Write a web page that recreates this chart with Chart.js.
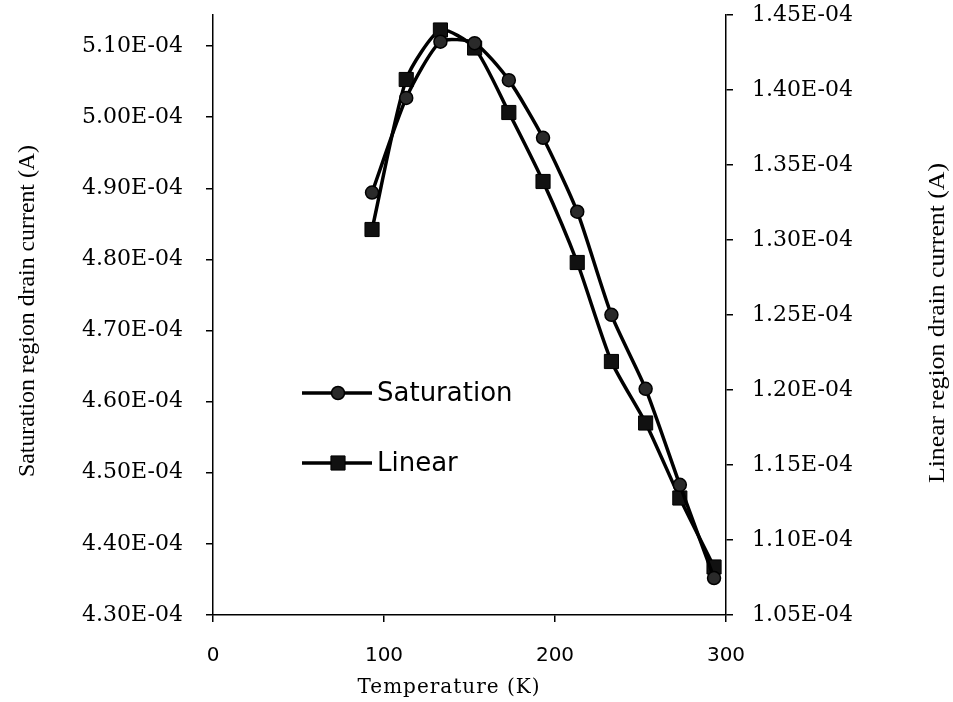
<!DOCTYPE html>
<html>
<head>
<meta charset="utf-8">
<script src="https://cdn.jsdelivr.net/npm/chart.js@4.4.1/dist/chart.umd.min.js"></script>
<style>
  html, body { margin: 0; padding: 0; background: #fff; }
  #wrap { width: 953px; height: 702px; }
</style>
</head>
<body>
<div id="wrap"><canvas id="myChart" width="953" height="702"></canvas></div>
<script>
const temperatures = [93, 113, 133, 153, 173, 193, 213, 233, 253, 273, 293];
const saturationCurrent = [4.894e-4, 5.027e-4, 5.106e-4, 5.104e-4, 5.052e-4, 4.971e-4, 4.867e-4, 4.722e-4, 4.618e-4, 4.483e-4, 4.352e-4];
const linearCurrent = [1.307e-4, 1.407e-4, 1.440e-4, 1.428e-4, 1.385e-4, 1.339e-4, 1.285e-4, 1.219e-4, 1.178e-4, 1.128e-4, 1.082e-4];
const tempTicks = [0, 100, 200, 300];
const saturationTicks = [4.3e-4, 4.4e-4, 4.5e-4, 4.6e-4, 4.7e-4, 4.8e-4, 4.9e-4, 5.0e-4, 5.1e-4];
const linearTicks = [1.05e-4, 1.10e-4, 1.15e-4, 1.20e-4, 1.25e-4, 1.30e-4, 1.35e-4, 1.40e-4, 1.45e-4];

// Excel style: 5.10E-04
const fmtSci = (v) => {
  const [m, e] = v.toExponential(2).split("e");
  const n = parseInt(e, 10);
  return m + "E" + (n < 0 ? "-" : "+") + String(Math.abs(n)).padStart(2, "0");
};

const toPoints = (xs, ys) => xs.map((x, i) => ({ x: x, y: ys[i] }));

const noPad = (s) => {
  s.paddingTop = 0;
  s.paddingBottom = 0;
  s.paddingLeft = 0;
  s.paddingRight = 0;
};

const axisCommon = {
  grid: { drawOnChartArea: false, drawTicks: true, tickLength: 7, color: "#000", lineWidth: 1.5 },
  border: { display: true, color: "#000", width: 1.5 },
};

// titles are drawn by hand: both y titles read bottom-to-top and are stretched like the original
const titlesAndLegend = {
  id: "titlesAndLegend",
  afterDraw(chart) {
    const ctx = chart.ctx;
    const vTitle = (text, cx, cy, len) => {
      ctx.save();
      ctx.font = "24px 'Liberation Serif'";
      const w = ctx.measureText(text).width;
      ctx.translate(cx, cy);
      ctx.rotate(-Math.PI / 2);
      ctx.scale(len / w, 1);
      ctx.fillStyle = "#000";
      ctx.textAlign = "center";
      ctx.textBaseline = "middle";
      ctx.fillText(text, 0, 0);
      ctx.restore();
    };
    vTitle("Saturation region drain current (A)", 28, 311, 332);
    vTitle("Linear region drain current (A)", 938, 323, 320);

    ctx.save();
    ctx.font = "20px 'DejaVu Serif'";
    ctx.letterSpacing = "1px";
    ctx.fillStyle = "#000";
    ctx.textAlign = "center";
    ctx.textBaseline = "middle";
    ctx.fillText("Temperature (K)", 449, 688);
    ctx.restore();

    // legend inside the plot
    const rows = [
      { ds: chart.data.datasets[0], y: 393 },
      { ds: chart.data.datasets[1], y: 463 },
    ];
    rows.forEach((r) => {
      ctx.save();
      ctx.strokeStyle = r.ds.borderColor;
      ctx.lineWidth = r.ds.borderWidth;
      ctx.beginPath();
      ctx.moveTo(302, r.y);
      ctx.lineTo(372, r.y);
      ctx.stroke();
      ctx.fillStyle = r.ds.pointBackgroundColor;
      ctx.strokeStyle = r.ds.pointBorderColor;
      ctx.lineWidth = r.ds.pointBorderWidth;
      Chart.helpers.drawPoint(ctx, { pointStyle: r.ds.pointStyle, radius: r.ds.pointRadius, borderWidth: r.ds.pointBorderWidth, rotation: 0 }, 338, r.y);
      ctx.font = "26px 'DejaVu Sans'";
      ctx.fillStyle = "#000";
      ctx.textAlign = "left";
      ctx.textBaseline = "middle";
      ctx.fillText(r.ds.label, 377, r.y + 1);
      ctx.restore();
    });
  },
};

const data = {
  datasets: [
    {
      label: "Saturation",
      data: toPoints(temperatures, saturationCurrent),
      yAxisID: "y",
      borderColor: "#000",
      borderWidth: 3.5,
      tension: 0.22,
      pointStyle: "circle",
      pointRadius: 6.5,
      pointBackgroundColor: "#2a2a2a",
      pointBorderColor: "#000",
      pointBorderWidth: 1.5,
    },
    {
      label: "Linear",
      data: toPoints(temperatures, linearCurrent),
      yAxisID: "y1",
      borderColor: "#000",
      borderWidth: 3.5,
      tension: 0.22,
      pointStyle: "rect",
      pointRadius: 10,
      pointBackgroundColor: "#111",
      pointBorderColor: "#000",
      pointBorderWidth: 1,
    },
  ],
};

const config = {
  type: "line",
  data: data,
  plugins: [titlesAndLegend],
  options: {
    responsive: false,
    animation: false,
    layout: { padding: { top: 15, left: 0, right: 0, bottom: 0 } },
    plugins: { legend: { display: false }, tooltip: { enabled: false } },
    scales: {
      x: {
        ...axisCommon,
        type: "linear",
        min: 0,
        max: 300,
        afterBuildTicks: (s) => { s.ticks = tempTicks.map((v) => ({ value: v })); },
        afterFit: (s) => { s.height = 87; noPad(s); },
        ticks: { color: "#000", font: { family: "'DejaVu Sans'", size: 20 }, padding: 22, maxRotation: 0 },
      },
      y: {
        ...axisCommon,
        position: "left",
        min: 4.3e-4,
        max: 5.1436e-4,
        afterBuildTicks: (s) => { s.ticks = saturationTicks.map((v) => ({ value: v })); },
        afterFit: (s) => { s.width = 213; noPad(s); },
        ticks: { color: "#000", font: { family: "'DejaVu Serif'", size: 22 }, padding: 23, callback: (v) => fmtSci(v) },
      },
      y1: {
        ...axisCommon,
        position: "right",
        min: 1.05e-4,
        max: 1.45e-4,
        afterBuildTicks: (s) => { s.ticks = linearTicks.map((v) => ({ value: v })); },
        afterFit: (s) => { s.width = 227; noPad(s); },
        ticks: { color: "#000", font: { family: "'DejaVu Serif'", size: 22 }, padding: 19, callback: (v) => fmtSci(v) },
      },
    },
  },
};

// eslint-disable-next-line no-undef
const myChart = new Chart(document.getElementById("myChart"), config);
</script>
</body>
</html>
